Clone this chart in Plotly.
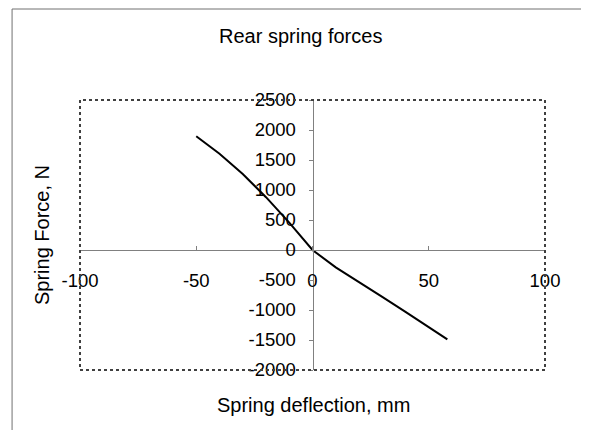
import plotly.graph_objects as go

# Data
deflection_mm = [-50, -40, -30, -20, -10, 0, 10, 20, 30, 40, 50, 58]
force_N = [1895, 1605, 1265, 880, 455, 0, -290, -530, -780, -1030, -1280, -1490]

x_ticks = [-100, -50, 0, 50, 100]
y_ticks = [-2000, -1500, -1000, -500, 0, 500, 1000, 1500, 2000, 2500]

# page body has an 8px margin, so the figure is 8px smaller than the window
W, H = 581, 422
L, T = 72, 92
R = W - 537.5
B = H - 362
pw, ph = W - L - R, H - T - B

FONT = "Liberation Sans, Arial, sans-serif"
TICKSIZE = 18.5
TITLESIZE = 20

def px(xf):  # figure pixel -> paper x
    return (xf - L) / pw

def py(yf):  # figure pixel (from top) -> paper y
    return (T + ph - yf) / ph

fig = go.Figure()
fig.add_trace(go.Scatter(
    x=deflection_mm, y=force_N, mode="lines",
    line=dict(color="black", width=2, shape="linear"),
    showlegend=False, hoverinfo="skip"))

ymin, ymax = -2000, 2500
fig.update_layout(
    width=W, height=H,
    margin=dict(l=L, r=R, t=T, b=B, pad=0),
    paper_bgcolor="white", plot_bgcolor="white",
    font=dict(family=FONT, size=TICKSIZE, color="black"),
    xaxis=dict(range=[-100, 100], tickvals=x_ticks, ticktext=[str(v) for v in x_ticks],
               showgrid=False, zeroline=False, showline=True, linecolor="#808080", linewidth=1,
               ticks="inside", ticklen=4, tickcolor="#808080",
               anchor="free", position=(0 - ymin) / (ymax - ymin),
               ticklabelstandoff=14,
               tickfont=dict(family=FONT, size=TICKSIZE, color="black")),
    yaxis=dict(range=[ymin, ymax], tickvals=y_ticks, ticktext=[str(v) for v in y_ticks],
               showgrid=False, zeroline=False, showline=True, linecolor="#808080", linewidth=1,
               ticks="outside", ticklen=4, tickcolor="#808080",
               anchor="free", position=0.5,
               ticklabelstandoff=9,
               tickfont=dict(family=FONT, size=TICKSIZE, color="black")),
)

# plot area frame (dotted, Excel style)
fig.add_shape(type="rect", xref="paper", yref="paper", x0=0, y0=0, x1=1, y1=1,
              line=dict(color="#404040", width=2, dash="dot"), layer="above")
# outer chart frame (bottom edge lies below the visible area)
fig.add_shape(type="rect", xref="paper", yref="paper",
              x0=px(4), x1=px(577), y0=py(H + 20), y1=py(1),
              line=dict(color="#707070", width=1))

# titles
fig.add_annotation(text="Rear spring forces", xref="paper", yref="paper",
                   x=px(292.5), y=py(28), showarrow=False,
                   xanchor="center", yanchor="middle",
                   font=dict(family=FONT, size=TITLESIZE, color="black"))
fig.add_annotation(text="Spring deflection, mm", xref="paper", yref="paper",
                   x=px(306), y=py(397), showarrow=False,
                   xanchor="center", yanchor="middle",
                   font=dict(family=FONT, size=TITLESIZE, color="black"))
fig.add_annotation(text="Spring Force, N", xref="paper", yref="paper",
                   x=px(34), y=0.5, showarrow=False, textangle=-90,
                   xanchor="center", yanchor="middle",
                   font=dict(family=FONT, size=TITLESIZE, color="black"))

fig.write_html("out.html")
